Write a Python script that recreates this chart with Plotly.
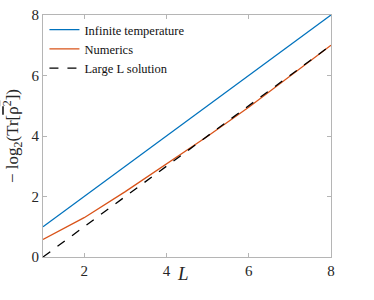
import plotly.graph_objects as go

L = [1, 2, 3, 4, 5, 6, 7, 8]
infinite_temp = [1, 2, 3, 4, 5, 6, 7, 8]
numerics = [0.58, 1.30, 2.16, 3.07, 3.99, 4.95, 5.97, 7.0]
large_L = [0, 1, 2, 3, 4, 5, 6, 7]

x_ticks = [2, 4, 6, 8]
y_ticks = [0, 2, 4, 6, 8]

font = "Times New Roman, Liberation Serif, serif"

fig = go.Figure()
fig.add_trace(go.Scatter(x=L, y=infinite_temp, mode="lines", name="Infinite temperature",
                         line=dict(color="#0072BD", width=1.3)))
fig.add_trace(go.Scatter(x=L, y=numerics, mode="lines", name="Numerics",
                         line=dict(color="#D95319", width=1.3)))
fig.add_trace(go.Scatter(x=L, y=large_L, mode="lines", name="Large L solution",
                         line=dict(color="black", width=1.3, dash="dash")))

axis_common = dict(showgrid=False, zeroline=False, showline=True, mirror="ticks",
                   linecolor="#b5b5b5", linewidth=1, ticks="inside", ticklen=4,
                   tickcolor="#b5b5b5", automargin=False, ticklabeloverflow="allow",
                   tickfont=dict(family=font, size=15, color="#262626"))

fig.update_xaxes(range=[1, 8], tickvals=x_ticks, **axis_common)
fig.update_yaxes(range=[0, 8], tickvals=y_ticks, **axis_common)

fig.update_layout(
    width=374, height=300,
    margin=dict(l=43, r=43, t=15, b=43),
    plot_bgcolor="white", paper_bgcolor="white",
    font=dict(family=font, color="#262626"),
    showlegend=True,
    legend=dict(x=0.005, y=1.0, xanchor="left", yanchor="top",
                bgcolor="rgba(0,0,0,0)", borderwidth=0,
                font=dict(family=font, size=12.5, color="#111111"),
                itemwidth=30, tracegroupgap=0),
    yaxis_title=dict(text="− log<sub>2</sub>(Tr[<span style='text-decoration:overline'>ρ<sup>2</sup></span>])",
                     font=dict(family=font, size=17, color="#262626"), standoff=8),
)
fig.add_annotation(x=4.2, y=0, xref="x", yref="paper", yshift=-16, text="<i>L</i>",
                   showarrow=False, xanchor="left", yanchor="middle",
                   font=dict(family=font, size=19, color="#262626"))

fig.write_html("out.html", config={"displayModeBar": False},
               post_script="document.body.style.margin='0';")
